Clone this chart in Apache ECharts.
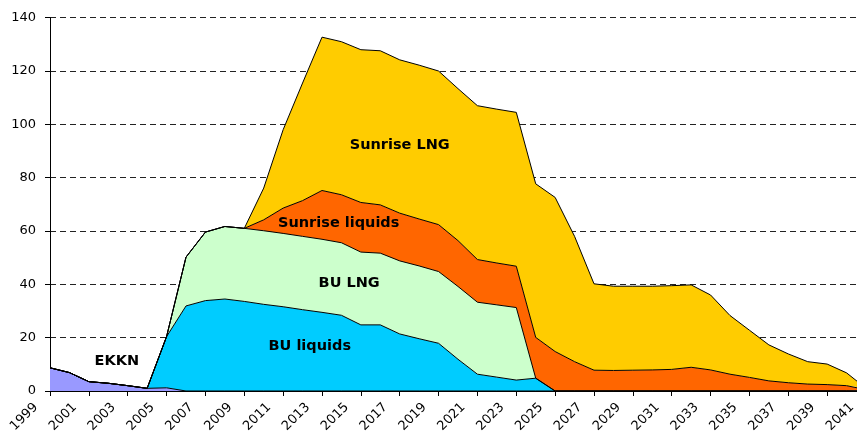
<!DOCTYPE html>
<html>
<head>
<meta charset="utf-8">
<script src="https://cdn.jsdelivr.net/npm/echarts@6/dist/echarts.min.js"></script>
<style>
html,body{margin:0;padding:0;background:#fff;overflow:hidden;}
#c{width:857px;height:432px;}
</style>
</head>
<body>
<div id="c"></div>
<script>
const years = ['1999','2000','2001','2002','2003','2004','2005','2006','2007','2008','2009','2010','2011','2012','2013','2014','2015','2016','2017','2018','2019','2020','2021','2022','2023','2024','2025','2026','2027','2028','2029','2030','2031','2032','2033','2034','2035','2036','2037','2038','2039','2040','2041'];

const ekkn = [8.7,6.9,3.5,2.9,2.0,1.0,1.2,0,0,0,0,0,0,0,0,0,0,0,0,0,0,0,0,0,0,0,0,0,0,0,0,0,0,0,0,0,0,0,0,0,0,0,0];

const buLiquids = [0,0,0,0,0,0,19.2,31.9,33.9,34.5,33.6,32.5,31.6,30.5,29.5,28.4,24.8,24.8,21.4,19.6,17.9,11.9,6.3,5.2,4.1,4.8,0,0,0,0,0,0,0,0,0,0,0,0,0,0,0,0,0];

const buLng = [0,0,0,0,0,0,0,18.3,25.7,27.2,27.4,27.6,27.5,27.5,27.4,27.2,27.3,26.9,27.4,27.3,26.9,27.3,27.0,27.1,27.2,0,0,0,0,0,0,0,0,0,0,0,0,0,0,0,0,0,0];

const sunriseLiquids = [0,0,0,0,0,0,0,0,0,0,0,4.1,9.5,13.4,18.3,18.0,18.6,18.1,17.9,17.6,17.6,17.2,16.0,15.7,15.5,15.3,14.8,11.0,7.8,7.7,7.8,7.9,8.1,8.9,7.9,6.3,5.1,3.8,3.1,2.6,2.4,2.0,0.5];

const sunriseLng = [0,0,0,0,0,0,0,0,0,0,0,11.9,29.4,44.1,57.5,57.4,57.3,57.8,57.5,57.7,57.6,57.0,57.7,57.7,57.7,57.6,57.8,47.0,32.4,31.6,31.5,31.4,31.4,30.9,28.1,22.0,17.7,13.5,10.8,8.4,7.7,4.8,0.5];

const seriesNames = ['EKKN','BU liquids','BU LNG','Sunrise liquids','Sunrise LNG'];
const seriesData = [ekkn, buLiquids, buLng, sunriseLiquids, sunriseLng];
const seriesColors = ['#9999FF','#00CCFF','#CCFFCC','#FF6600','#FFCC00'];

const yTicks = [0,20,40,60,80,100,120,140];

// label anchors: [category index (fractional), value]
const labelAnchors = [[3.44,11.0],[13.37,16.7],[15.4,40.4],[14.86,63.1],[18.0,92.0]];

const FONT = '"DejaVu Sans", sans-serif';
const chart = echarts.init(document.getElementById('c'), null, {renderer:'canvas'});

chart.setOption({
  animation:false,
  backgroundColor:'#fff',
  grid:{left:50, right:-9, top:17.7, bottom:41, containLabel:false, outerBoundsMode:'none'},
  xAxis:{
    type:'category', data:years, boundaryGap:false,
    axisLine:{show:true, lineStyle:{color:'#000', width:1}},
    axisTick:{show:true, interval:1, length:5, lineStyle:{color:'#000'}},
    axisLabel:{interval:1, rotate:45, margin:0, padding:[0,20,0,0], color:'#000', fontFamily:FONT, fontSize:13},
    splitLine:{show:false}
  },
  yAxis:{
    type:'value', min:yTicks[0], max:yTicks[yTicks.length-1], interval:20,
    axisLine:{show:true, lineStyle:{color:'#000', width:1}},
    axisTick:{show:true, length:5, lineStyle:{color:'#000'}},
    axisLabel:{margin:14, color:'#000', fontFamily:FONT, fontSize:13},
    splitLine:{show:true, lineStyle:{color:'#222', type:[6,4], width:1}}
  },
  series: seriesNames.map((n,i)=>({
    name:n, type:'line', stack:'total', data:seriesData[i],
    showSymbol:false, symbol:'none',
    lineStyle:{color:'#000', width:1},
    itemStyle:{color:seriesColors[i]},
    areaStyle:{color:seriesColors[i], opacity:1}
  }))
});

const p0 = chart.convertToPixel({gridIndex:0}, [0, 0]);
const p1 = chart.convertToPixel({gridIndex:0}, [1, 0]);
const dx = p1[0]-p0[0];
chart.setOption({
  graphic: seriesNames.map((n,i)=>{
    const a = labelAnchors[i];
    const py = chart.convertToPixel({gridIndex:0}, [0, a[1]])[1];
    return {
      type:'text', x: p0[0] + a[0]*dx, y: py, z:100,
      style:{text:n, fill:'#000', font:'bold 14.5px ' + FONT, textAlign:'center', textVerticalAlign:'middle'}
    };
  })
});
</script>
</body>
</html>
